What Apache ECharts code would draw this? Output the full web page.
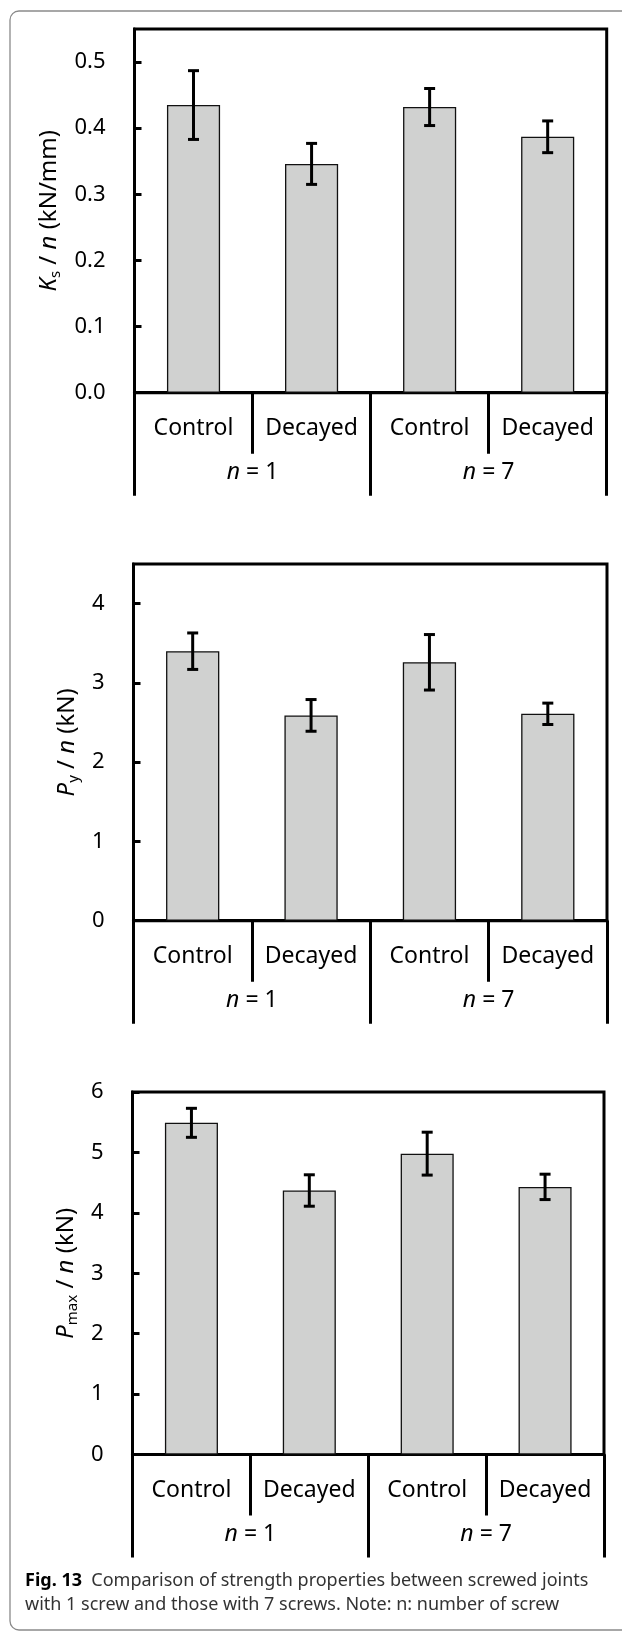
<!DOCTYPE html>
<html>
<head>
<meta charset="utf-8">
<script src="https://cdn.jsdelivr.net/npm/echarts@6/dist/echarts.min.js"></script>
<style>
html,body{margin:0;padding:0;background:#fff;}
#c{width:622px;height:1632px;}
</style>
</head>
<body>
<div id="c"></div>
<script>
// ---- data ----
const categories = ['Control', 'Decayed', 'Control', 'Decayed'];
const groups = ['n = 1', 'n = 7'];
const ksMean = [0.435, 0.346, 0.432, 0.387];
const ksErr  = [0.052, 0.031, 0.028, 0.024];
const pyMean = [3.40, 2.59, 3.26, 2.61];
const pyErr  = [0.23, 0.20, 0.35, 0.135];
const pmaxMean = [5.49, 4.37, 4.98, 4.43];
const pmaxErr  = [0.24, 0.26, 0.355, 0.21];
const captionBold = 'Fig. 13';
const captionLine1 = 'Comparison of strength properties between screwed joints';
const captionLine2 = 'with 1 screw and those with 7 screws. Note: n: number of screw';

// ---- layout ----
const FONT = 'Noto Sans';
const panels = [
  { grid: {left: 134.5, top: 29, width: 472.2, height: 363.7}, mean: ksMean, err: ksErr, max: 0.55, interval: 0.1, dec: 1,
    name: '{i|K}{sub|s}{r| / }{i|n}{r| (kN/mm)}', nameGap: 66 },
  { grid: {left: 133.5, top: 564, width: 473.5, height: 356.7}, mean: pyMean, err: pyErr, max: 4.5, interval: 1, dec: 0,
    name: '{i|P}{sub|y}{r| / }{i|n}{r| (kN)}', nameGap: 44 },
  { grid: {left: 132.5, top: 1092, width: 471.5, height: 362.6}, mean: pmaxMean, err: pmaxErr, max: 6, interval: 1, dec: 0,
    name: '{i|P}{sub|max}{r| / }{i|n}{r| (kN)}', nameGap: 44 }
];

const nameRich = {
  i: {fontFamily: FONT, fontSize: 24, fontStyle: 'italic', color: '#000'},
  r: {fontFamily: FONT, fontSize: 24, color: '#000'},
  sub: {fontFamily: FONT, fontSize: 15, color: '#000', verticalAlign: 'bottom', padding: [13, 0, 0, 0]}
};

const grids = [], xAxes = [], yAxes = [], series = [];
panels.forEach((p, k) => {
  grids.push(Object.assign({show: true, borderColor: '#000', borderWidth: 3, backgroundColor: 'transparent', containLabel: false}, p.grid));
  // lower level category axis
  xAxes.push({
    type: 'category', gridIndex: k, data: categories, position: 'bottom',
    axisLine: {show: true, lineStyle: {color: '#000', width: 3}},
    axisTick: {show: true, length: 61, interval: 0, lineStyle: {color: '#000', width: 3}},
    axisLabel: {show: true, interval: 0, margin: 24, fontFamily: FONT, fontSize: 23, color: '#000'},
    splitLine: {show: false}
  });
  // upper-level group axis
  xAxes.push({
    type: 'category', gridIndex: k, data: groups, position: 'bottom',
    axisLine: {show: false},
    axisTick: {show: true, length: 103, interval: 0, lineStyle: {color: '#000', width: 3}},
    axisLabel: {show: true, interval: 0, margin: 68,
      formatter: v => '{i|' + v.slice(0, 1) + '}{r|' + v.slice(1) + '}',
      rich: {
        i: {fontFamily: FONT, fontSize: 23, fontStyle: 'italic', color: '#000'},
        r: {fontFamily: FONT, fontSize: 23, color: '#000'}
      }},
    splitLine: {show: false}
  });
  yAxes.push({
    type: 'value', gridIndex: k, min: 0, max: p.max, interval: p.interval,
    axisLine: {show: true, lineStyle: {color: '#000', width: 3}},
    axisTick: {show: true, inside: true, length: 7, lineStyle: {color: '#000', width: 3}},
    axisLabel: {margin: 29, fontFamily: FONT, fontSize: 22, color: '#000', showMaxLabel: p.max % p.interval === 0,
      formatter: v => v.toFixed(p.dec)},
    splitLine: {show: false},
    name: p.name, nameLocation: 'middle', nameGap: p.nameGap, nameRotate: 90,
    nameTextStyle: {rich: nameRich}
  });
  series.push({
    type: 'bar', xAxisIndex: 2 * k, yAxisIndex: k, data: p.mean, barWidth: '45%',
    itemStyle: {color: '#d0d1d0', borderColor: '#111', borderWidth: 1.3},
    silent: true, z: 2
  });
  series.push({
    type: 'custom', xAxisIndex: 2 * k, yAxisIndex: k, z: 5, silent: true,
    data: p.mean.map((m, j) => [j, m - p.err[j], m + p.err[j]]),
    renderItem: function (params, api) {
      const lo = api.coord([api.value(0), api.value(1)]);
      const hi = api.coord([api.value(0), api.value(2)]);
      const hw = 5.5;
      const st = {stroke: '#000', lineWidth: 3};
      return {type: 'group', children: [
        {type: 'line', shape: {x1: lo[0], y1: lo[1], x2: hi[0], y2: hi[1]}, style: st},
        {type: 'line', shape: {x1: lo[0] - hw, y1: lo[1], x2: lo[0] + hw, y2: lo[1]}, style: st},
        {type: 'line', shape: {x1: hi[0] - hw, y1: hi[1], x2: hi[0] + hw, y2: hi[1]}, style: st}
      ]};
    }
  });
});

const chart = echarts.init(document.getElementById('c'), null, {renderer: 'canvas', width: 622, height: 1632});
chart.setOption({
  backgroundColor: '#fff',
  animation: false,
  grid: grids, xAxis: xAxes, yAxis: yAxes, series: series,
  graphic: [
    {type: 'rect', shape: {x: 10, y: 11, width: 622, height: 1619, r: 9},
     style: {fill: 'none', stroke: '#8a8a8a', lineWidth: 1.3}, z: 0, silent: true},
    {type: 'text', left: 25, top: 1572, silent: true,
     style: {text: '{b|' + captionBold + '}{t|  ' + captionLine1 + '}',
       rich: {b: {fontFamily: FONT, fontSize: 18, fontWeight: 'bold', fill: '#000'},
              t: {fontFamily: FONT, fontSize: 18, fill: '#333'}}}},
    {type: 'text', left: 25, top: 1596, silent: true,
     style: {text: captionLine2, fontFamily: FONT, fontSize: 18, fill: '#333'}}
  ]
});
</script>
</body>
</html>
